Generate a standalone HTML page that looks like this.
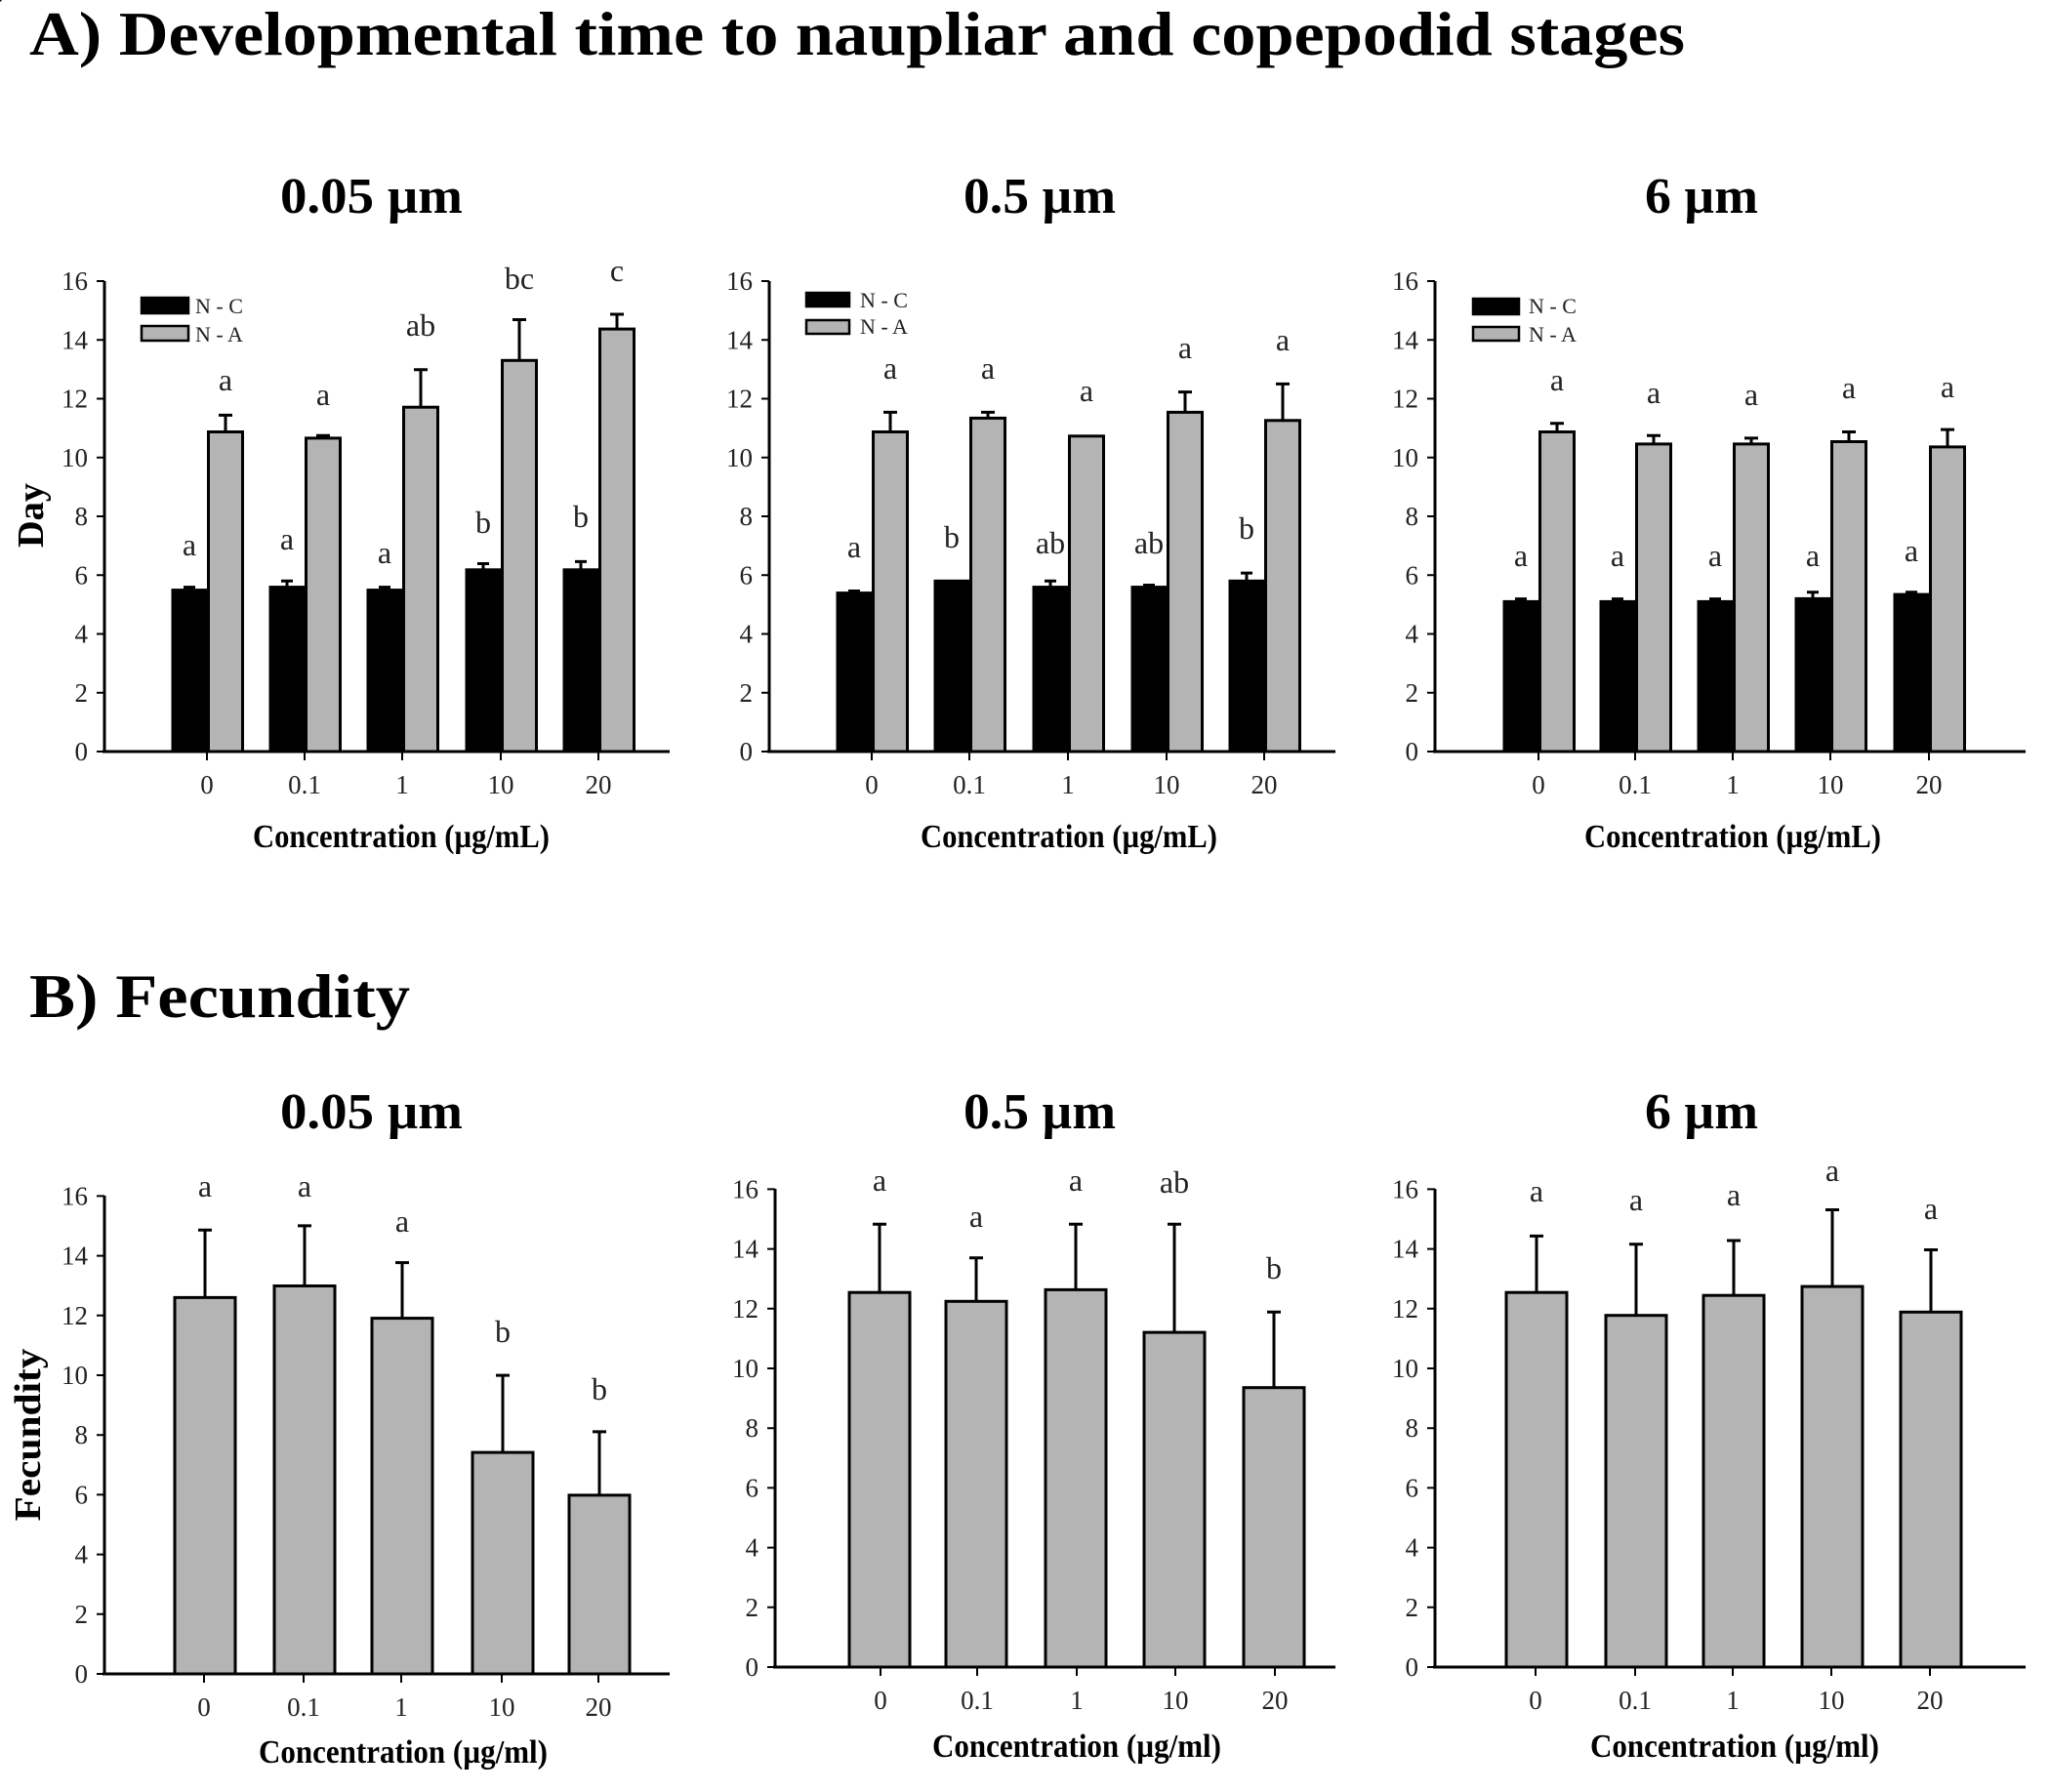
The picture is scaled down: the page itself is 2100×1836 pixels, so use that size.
<!DOCTYPE html>
<html><head><meta charset="utf-8"><style>
html,body{margin:0;padding:0;background:#fff;}
svg{display:block;}
.t{font-family:"Liberation Serif",serif;font-weight:bold;fill:#000;}
.n{font-family:"Liberation Serif",serif;fill:#222;}
</style></head><body>
<svg width="2100" height="1836" viewBox="0 0 2100 1836" xmlns="http://www.w3.org/2000/svg">
<rect width="2100" height="1836" fill="#fff"/>
<!-- Titles -->
<text class="t" x="30" y="56" font-size="64" textLength="1696" lengthAdjust="spacingAndGlyphs">A) Developmental time to naupliar and copepodid stages</text>
<text class="t" x="287" y="218" font-size="52" textLength="187" lengthAdjust="spacingAndGlyphs">0.05 µm</text>
<text class="t" x="987" y="218" font-size="52" textLength="156" lengthAdjust="spacingAndGlyphs">0.5 µm</text>
<text class="t" x="1685" y="218" font-size="52" textLength="116" lengthAdjust="spacingAndGlyphs">6 µm</text>
<text class="t" x="30" y="1042" font-size="64" textLength="390" lengthAdjust="spacingAndGlyphs">B) Fecundity</text>
<text class="t" x="287" y="1156" font-size="52" textLength="187" lengthAdjust="spacingAndGlyphs">0.05 µm</text>
<text class="t" x="987" y="1156" font-size="52" textLength="156" lengthAdjust="spacingAndGlyphs">0.5 µm</text>
<text class="t" x="1685" y="1156" font-size="52" textLength="116" lengthAdjust="spacingAndGlyphs">6 µm</text>

<!-- Y labels -->
<text class="t" font-size="38" transform="translate(44,528) rotate(-90)" text-anchor="middle" textLength="66" lengthAdjust="spacingAndGlyphs">Day</text>
<text class="t" font-size="38" transform="translate(41,1470) rotate(-90)" text-anchor="middle" textLength="177" lengthAdjust="spacingAndGlyphs">Fecundity</text>

<!-- Axis groups: A row -->
<g id="axA" stroke="#000" stroke-width="3" fill="none">
  <line x1="0" y1="-482" x2="0" y2="1.5"/>
  <path d="M-8 0H0M-8 -60.25H0M-8 -120.5H0M-8 -180.75H0M-8 -241H0M-8 -301.25H0M-8 -361.5H0M-8 -421.75H0M-8 -482H0" stroke-width="2"/>
</g>
<g transform="translate(107,770)">
  <use href="#axA"/>
</g>
<g transform="translate(788,770)"><use href="#axA"/></g>
<g transform="translate(1470,770)"><use href="#axA"/></g>
<g stroke="#000" stroke-width="3">
  <line x1="105" y1="770" x2="686" y2="770"/>
  <line x1="786" y1="770" x2="1368" y2="770"/>
  <line x1="1468" y1="770" x2="2075" y2="770"/>
</g>
<g stroke="#000" stroke-width="2">
  <path d="M212 770v9M312 770v9M412 770v9M513 770v9M613 770v9"/>
  <path d="M893 770v9M993 770v9M1094 770v9M1195 770v9M1295 770v9"/>
  <path d="M1576 770v9M1675 770v9M1775 770v9M1875 770v9M1976 770v9"/>
</g>
<!-- Y tick labels A -->
<g class="n" font-size="27" text-anchor="end">
  <g transform="translate(90,779)">
    <text y="0">0</text><text y="-60.25">2</text><text y="-120.5">4</text><text y="-180.75">6</text><text y="-241">8</text><text y="-301.25">10</text><text y="-361.5">12</text><text y="-421.75">14</text><text y="-482">16</text>
  </g>
  <g transform="translate(771,779)">
    <text y="0">0</text><text y="-60.25">2</text><text y="-120.5">4</text><text y="-180.75">6</text><text y="-241">8</text><text y="-301.25">10</text><text y="-361.5">12</text><text y="-421.75">14</text><text y="-482">16</text>
  </g>
  <g transform="translate(1453,779)">
    <text y="0">0</text><text y="-60.25">2</text><text y="-120.5">4</text><text y="-180.75">6</text><text y="-241">8</text><text y="-301.25">10</text><text y="-361.5">12</text><text y="-421.75">14</text><text y="-482">16</text>
  </g>
</g>
<!-- X tick labels A -->
<g class="n" font-size="27" text-anchor="middle">
  <text x="212" y="813">0</text><text x="312" y="813">0.1</text><text x="412" y="813">1</text><text x="513" y="813">10</text><text x="613" y="813">20</text>
  <text x="893" y="813">0</text><text x="993" y="813">0.1</text><text x="1094" y="813">1</text><text x="1195" y="813">10</text><text x="1295" y="813">20</text>
  <text x="1576" y="813">0</text><text x="1675" y="813">0.1</text><text x="1775" y="813">1</text><text x="1875" y="813">10</text><text x="1976" y="813">20</text>
</g>
<g class="t" font-size="34">
  <text x="259" y="868" textLength="304" lengthAdjust="spacingAndGlyphs">Concentration (µg/mL)</text>
  <text x="943" y="868" textLength="304" lengthAdjust="spacingAndGlyphs">Concentration (µg/mL)</text>
  <text x="1623" y="868" textLength="304" lengthAdjust="spacingAndGlyphs">Concentration (µg/mL)</text>
</g>

<!-- Legends -->
<g stroke="#000" stroke-width="2.5">
  <rect x="145" y="305" width="48" height="16" fill="#000"/>
  <rect x="145" y="334" width="48" height="15" fill="#b4b4b4"/>
  <rect x="826" y="300" width="44" height="14" fill="#000"/>
  <rect x="826" y="328" width="44" height="14" fill="#b4b4b4"/>
  <rect x="1509" y="306" width="47" height="16" fill="#000"/>
  <rect x="1509" y="335" width="47" height="14" fill="#b4b4b4"/>
</g>
<g class="n" font-size="22">
  <text x="200" y="321">N - C</text><text x="200" y="350">N - A</text>
  <text x="881" y="315">N - C</text><text x="881" y="342">N - A</text>
  <text x="1566" y="321">N - C</text><text x="1566" y="350">N - A</text>
</g>

<!-- A1 bars -->
<g stroke="#000" stroke-width="3">
  <g fill="#000">
    <rect x="177" y="604.6" width="35" height="165.4"/>
    <rect x="277" y="601.6" width="35" height="168.4"/>
    <rect x="377" y="604.6" width="35" height="165.4"/>
    <rect x="478" y="583.8" width="35" height="186.2"/>
    <rect x="578" y="583.8" width="35" height="186.2"/>
  </g>
  <g fill="#b4b4b4">
    <rect x="213.5" y="442.5" width="35" height="327.5"/>
    <rect x="313.5" y="448.9" width="35" height="321.1"/>
    <rect x="413.5" y="417.2" width="35" height="352.8"/>
    <rect x="514.5" y="369.3" width="35" height="400.7"/>
    <rect x="614.5" y="337.1" width="35" height="432.9"/>
  </g>
  <path fill="none" d="M194 604.6V601.6M188 601.6H200 M294 601.6V595.3M288 595.3H300 M394 604.6V601.6M388 601.6H400 M495 583.8V577.5M489 577.5H501 M595 583.8V575.4M589 575.4H601
  M231 442.5V425.4M224 425.4H238 M331 448.9V446.2M324 446.2H338 M431 417.2V378.7M424 378.7H438 M532 369.3V327.5M525 327.5H539 M632 337.1V322M625 322H639"/>
</g>
<g class="n" font-size="32" text-anchor="middle">
  <text x="194" y="569">a</text><text x="294" y="563">a</text><text x="394" y="577">a</text><text x="495" y="546">b</text><text x="595" y="540">b</text>
  <text x="231" y="400">a</text><text x="331" y="415">a</text><text x="431" y="344">ab</text><text x="532" y="296">bc</text><text x="632" y="288">c</text>
</g>

<!-- A2 bars -->
<g stroke="#000" stroke-width="3">
  <g fill="#000">
    <rect x="858" y="607.6" width="35" height="162.4"/>
    <rect x="958" y="595.3" width="35" height="174.7"/>
    <rect x="1059" y="601.6" width="35" height="168.4"/>
    <rect x="1160" y="601.6" width="35" height="168.4"/>
    <rect x="1260" y="595.3" width="35" height="174.7"/>
  </g>
  <g fill="#b4b4b4">
    <rect x="894.5" y="442.5" width="35" height="327.5"/>
    <rect x="994.5" y="428.4" width="35" height="341.6"/>
    <rect x="1095.5" y="446.8" width="35" height="323.2"/>
    <rect x="1196.5" y="422.4" width="35" height="347.6"/>
    <rect x="1296.5" y="430.8" width="35" height="339.2"/>
  </g>
  <path fill="none" d="M875 607.6V605.5M869 605.5H881 M1076 601.6V595.3M1070 595.3H1082 M1177 601.6V599.5M1171 599.5H1183 M1277 595.3V587.1M1271 587.1H1283
  M912 442.5V422.4M905 422.4H919 M1012 428.4V422.4M1005 422.4H1019 M1214 422.4V401.6M1207 401.6H1221 M1314 430.8V393.4M1307 393.4H1321"/>
</g>
<g class="n" font-size="32" text-anchor="middle">
  <text x="875" y="571">a</text><text x="975" y="561">b</text><text x="1076" y="567">ab</text><text x="1177" y="567">ab</text><text x="1277" y="552">b</text>
  <text x="912" y="388">a</text><text x="1012" y="388">a</text><text x="1113" y="411">a</text><text x="1214" y="367">a</text><text x="1314" y="359">a</text>
</g>

<!-- A3 bars -->
<g stroke="#000" stroke-width="3">
  <g fill="#000">
    <rect x="1541" y="616.4" width="35" height="153.6"/>
    <rect x="1640" y="616.4" width="35" height="153.6"/>
    <rect x="1740" y="616.4" width="35" height="153.6"/>
    <rect x="1840" y="613.4" width="35" height="156.6"/>
    <rect x="1941" y="609.1" width="35" height="160.9"/>
  </g>
  <g fill="#b4b4b4">
    <rect x="1577.5" y="442.5" width="35" height="327.5"/>
    <rect x="1676.5" y="454.9" width="35" height="315.1"/>
    <rect x="1776.5" y="454.9" width="35" height="315.1"/>
    <rect x="1876.5" y="452.5" width="35" height="317.5"/>
    <rect x="1977.5" y="457.9" width="35" height="312.1"/>
  </g>
  <path fill="none" d="M1558 616.4V613.6M1552 613.6H1564 M1657 616.4V613.6M1651 613.6H1663 M1757 616.4V613.6M1751 613.6H1763 M1857 613.4V606.7M1851 606.7H1863 M1958 609.1V606.7M1952 606.7H1964
  M1595 442.5V433.8M1588 433.8H1602 M1694 454.9V446.2M1687 446.2H1701 M1794 454.9V448.9M1787 448.9H1801 M1894 452.5V442.5M1887 442.5H1901 M1995 457.9V440.1M1988 440.1H2002"/>
</g>
<g class="n" font-size="32" text-anchor="middle">
  <text x="1558" y="580">a</text><text x="1657" y="580">a</text><text x="1757" y="580">a</text><text x="1857" y="580">a</text><text x="1958" y="575">a</text>
  <text x="1595" y="400">a</text><text x="1694" y="413">a</text><text x="1794" y="415">a</text><text x="1894" y="408">a</text><text x="1995" y="407">a</text>
</g>

<!-- B row axes -->
<g id="axB" stroke="#000" stroke-width="3" fill="none">
  <line x1="0" y1="-490" x2="0" y2="1.5"/>
  <path d="M-8 0H0M-8 -61.2H0M-8 -122.4H0M-8 -183.6H0M-8 -244.8H0M-8 -306H0M-8 -367.2H0M-8 -428.4H0M-8 -489.6H0" stroke-width="2"/>
</g>
<g transform="translate(107,1715)"><use href="#axB"/></g>
<g transform="translate(794,1708)"><use href="#axB"/></g>
<g transform="translate(1470,1708)"><use href="#axB"/></g>
<g stroke="#000" stroke-width="3">
  <line x1="105" y1="1715" x2="686" y2="1715"/>
  <line x1="792" y1="1708" x2="1368" y2="1708"/>
  <line x1="1468" y1="1708" x2="2075" y2="1708"/>
</g>
<g stroke="#000" stroke-width="2">
  <path d="M209 1715v9M311 1715v9M411 1715v9M514 1715v9M613 1715v9"/>
  <path d="M902 1708v9M1001 1708v9M1103 1708v9M1204 1708v9M1306 1708v9"/>
  <path d="M1573 1708v9M1675 1708v9M1775 1708v9M1876 1708v9M1977 1708v9"/>
</g>
<g class="n" font-size="27" text-anchor="end">
  <g transform="translate(90,1724)">
    <text y="0">0</text><text y="-61.2">2</text><text y="-122.4">4</text><text y="-183.6">6</text><text y="-244.8">8</text><text y="-306">10</text><text y="-367.2">12</text><text y="-428.4">14</text><text y="-489.6">16</text>
  </g>
  <g transform="translate(777,1717)">
    <text y="0">0</text><text y="-61.2">2</text><text y="-122.4">4</text><text y="-183.6">6</text><text y="-244.8">8</text><text y="-306">10</text><text y="-367.2">12</text><text y="-428.4">14</text><text y="-489.6">16</text>
  </g>
  <g transform="translate(1453,1717)">
    <text y="0">0</text><text y="-61.2">2</text><text y="-122.4">4</text><text y="-183.6">6</text><text y="-244.8">8</text><text y="-306">10</text><text y="-367.2">12</text><text y="-428.4">14</text><text y="-489.6">16</text>
  </g>
</g>
<g class="n" font-size="27" text-anchor="middle">
  <text x="209" y="1758">0</text><text x="311" y="1758">0.1</text><text x="411" y="1758">1</text><text x="514" y="1758">10</text><text x="613" y="1758">20</text>
  <text x="902" y="1751">0</text><text x="1001" y="1751">0.1</text><text x="1103" y="1751">1</text><text x="1204" y="1751">10</text><text x="1306" y="1751">20</text>
  <text x="1573" y="1751">0</text><text x="1675" y="1751">0.1</text><text x="1775" y="1751">1</text><text x="1876" y="1751">10</text><text x="1977" y="1751">20</text>
</g>
<g class="t" font-size="34">
  <text x="265" y="1806" textLength="296" lengthAdjust="spacingAndGlyphs">Concentration (µg/ml)</text>
  <text x="955" y="1800" textLength="296" lengthAdjust="spacingAndGlyphs">Concentration (µg/ml)</text>
  <text x="1629" y="1800" textLength="296" lengthAdjust="spacingAndGlyphs">Concentration (µg/ml)</text>
</g>

<!-- B bars -->
<g stroke="#000" stroke-width="3" fill="#b4b4b4">
  <rect x="179" y="1329.4" width="62" height="385.6"/>
  <rect x="281" y="1317.5" width="62" height="397.5"/>
  <rect x="381" y="1350.6" width="62" height="364.4"/>
  <rect x="484" y="1488.1" width="62" height="226.9"/>
  <rect x="583" y="1531.9" width="62" height="183.1"/>

  <rect x="870" y="1324.2" width="62" height="383.8"/>
  <rect x="969" y="1333.3" width="62" height="374.7"/>
  <rect x="1071" y="1321.4" width="62" height="386.6"/>
  <rect x="1172" y="1365.1" width="62" height="342.9"/>
  <rect x="1274" y="1421.7" width="62" height="286.3"/>

  <rect x="1543" y="1324.2" width="62" height="383.8"/>
  <rect x="1645" y="1347.7" width="62" height="360.3"/>
  <rect x="1745" y="1327.2" width="62" height="380.8"/>
  <rect x="1846" y="1318.1" width="62" height="389.9"/>
  <rect x="1947" y="1344.3" width="62" height="363.7"/>
  <path fill="none" d="M210 1329.4V1260.2M203 1260.2H217 M312 1317.5V1255.9M305 1255.9H319 M412 1350.6V1293.6M405 1293.6H419 M515 1488.1V1409.1M508 1409.1H522 M614 1531.9V1466.9M607 1466.9H621
  M901 1324.2V1254.2M894 1254.2H908 M1000 1333.3V1288.7M993 1288.7H1007 M1102 1321.4V1254.2M1095 1254.2H1109 M1203 1365.1V1254.2M1196 1254.2H1210 M1305 1421.7V1344.3M1298 1344.3H1312
  M1574 1324.2V1266.4M1567 1266.4H1581 M1676 1347.7V1274.7M1669 1274.7H1683 M1776 1327.2V1271M1769 1271H1783 M1877 1318.1V1239.5M1870 1239.5H1884 M1978 1344.3V1280.5M1971 1280.5H1985"/>
</g>
<g class="n" font-size="32" text-anchor="middle">
  <text x="210" y="1226">a</text><text x="312" y="1226">a</text><text x="412" y="1262">a</text><text x="515" y="1375">b</text><text x="614" y="1434">b</text>
  <text x="901" y="1220">a</text><text x="1000" y="1257">a</text><text x="1102" y="1220">a</text><text x="1203" y="1222">ab</text><text x="1305" y="1310">b</text>
  <text x="1574" y="1231">a</text><text x="1676" y="1240">a</text><text x="1776" y="1235">a</text><text x="1877" y="1210">a</text><text x="1978" y="1249">a</text>
</g>
</svg>
</body></html>
